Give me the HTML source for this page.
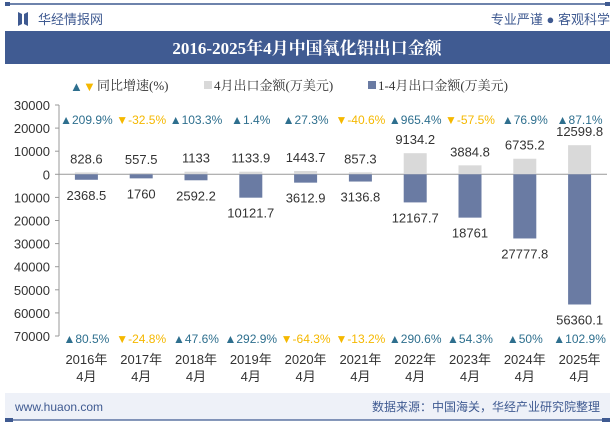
<!DOCTYPE html>
<html><head><meta charset="utf-8"><style>
body{margin:0;width:615px;height:427px;background:#fff;overflow:hidden;font-family:"Liberation Sans","Noto Sans CJK SC",sans-serif}
</style></head><body>
<svg width="615" height="427" xmlns="http://www.w3.org/2000/svg" font-family="Liberation Sans, Noto Sans CJK SC, sans-serif">
<line x1="5" y1="4" x2="610" y2="4" stroke="#3f5a91" stroke-width="1.5"/>
<rect x="5" y="2" width="5" height="4" fill="#3f5a91"/><rect x="605" y="2" width="5" height="4" fill="#3f5a91"/>
<g><polygon points="18,12 22,14 22,24 18,26" fill="#3f5a91"/><polygon points="28,12 24,14 24,24 28,26" fill="#3f5a91"/></g>
<text x="38" y="24" font-size="13" fill="#3f5a91">华经情报网</text>
<text x="610" y="24" font-size="13" fill="#3f5a91" text-anchor="end">专业严谨 ● 客观科学</text>
<rect x="5" y="31" width="605" height="33" fill="#405b92"/>
<text x="307" y="54" font-size="17" font-weight="bold" fill="#fff" text-anchor="middle" font-family="Liberation Serif, Noto Serif CJK SC, serif">2016-2025年4月中国氧化铝出口金额</text>
<g font-size="13" fill="#333" font-family="Liberation Serif, Noto Serif CJK SC, serif">
<text x="70" y="91" font-size="13" fill="#2e6f8e">▲</text><text x="83" y="91" font-size="13" fill="#f5b800">▼</text>
<text x="97" y="90">同比增速(%)</text>
<rect x="204" y="81" width="8" height="8" fill="#d9d9d9"/><text x="214" y="90">4月出口金额(万美元)</text>
<rect x="368" y="81" width="8" height="8" fill="#6a7ba3"/><text x="378" y="90">1-4月出口金额(万美元)</text>
</g>
<g id="axis"></g>
<g id="plot"></g>
<rect x="5" y="393" width="605" height="27" fill="#eef1f8"/>
<line x1="5" y1="420" x2="610" y2="420" stroke="#3f5a91" stroke-width="1.2"/>
<rect x="5" y="418" width="8" height="4" fill="#3f5a91"/><rect x="602" y="418" width="8" height="4" fill="#3f5a91"/>
<text x="15" y="411" font-size="12" fill="#3f5a91">www.huaon.com</text>
<text x="600" y="411" font-size="12" fill="#3f5a91" text-anchor="end">数据来源：中国海关，华经产业研究院整理</text>
</svg>
<script>
const categories=["2016年","2017年","2018年","2019年","2020年","2021年","2022年","2023年","2024年","2025年"];
const aprilValues=[828.6,557.5,1133,1133.9,1443.7,857.3,9134.2,3884.8,6735.2,12599.8];
const ytdValues=[2368.5,1760,2592.2,10121.7,3612.9,3136.8,12167.7,18761,27777.8,56360.1];
const aprilYoy=[209.9,-32.5,103.3,1.4,27.3,-40.6,965.4,-57.5,76.9,87.1];
const ytdYoy=[80.5,-24.8,47.6,292.9,-64.3,-13.2,290.6,54.3,50,102.9];
const yTicks=[30000,20000,10000,0,-10000,-20000,-30000,-40000,-50000,-60000,-70000];
const NS="http://www.w3.org/2000/svg";
const x0=59,x1=607,yTop=105,yBot=336,vMax=30000,vMin=-70000;
const y=v=>yTop+(vMax-v)/(vMax-vMin)*(yBot-yTop);
const bw=(x1-x0)/categories.length;
const cx=i=>x0+bw*(i+0.5);
function mk(t,a,p){const e=document.createElementNS(NS,t);for(const k in a)e.setAttribute(k,a[k]);p.appendChild(e);return e;}
const ax=document.getElementById('axis'),pl=document.getElementById('plot');
mk('line',{x1:x0,y1:yTop,x2:x0,y2:yBot,stroke:'#999'},ax);
yTicks.forEach(v=>{const t=mk('text',{x:x0-9,y:y(v)+5,'font-size':13,fill:'#333','text-anchor':'end'},ax);


t.textContent=Math.abs(v);
mk('line',{x1:x0-4,y1:y(v),x2:x0,y2:y(v),stroke:'#999'},ax);});
const fmt=p=>(p>=0?'▲':'▼')+p+'%';
categories.forEach((c,i)=>{
const X=cx(i),w=23;
const r1=mk('rect',{x:X-w/2,y:y(aprilValues[i]),width:w,height:y(0)-y(aprilValues[i]),fill:'#d9d9d9'},pl);


const r2=mk('rect',{x:X-w/2,y:y(0),width:w,height:y(-ytdValues[i])-y(0),fill:'#6a7ba3'},pl);


const t1=mk('text',{x:X,y:y(aprilValues[i])-9,'font-size':13,fill:'#333','text-anchor':'middle'},pl);


t1.textContent=aprilValues[i];
const t2=mk('text',{x:X,y:y(-ytdValues[i])+20,'font-size':13,fill:'#333','text-anchor':'middle'},pl);


t2.textContent=ytdValues[i];
const p1=mk('text',{x:X,y:124,'font-size':12,fill:aprilYoy[i]>=0?'#2e6f8e':'#f5b800','text-anchor':'middle'},pl);


p1.textContent=fmt(aprilYoy[i]);
const p2=mk('text',{x:X,y:343,'font-size':12,fill:ytdYoy[i]>=0?'#2e6f8e':'#f5b800','text-anchor':'middle'},pl);


p2.textContent=fmt(ytdYoy[i]);
const l1=mk('text',{x:X,y:364,'font-size':13,fill:'#333','text-anchor':'middle'},pl);


l1.textContent=c;
const l2=mk('text',{x:X,y:381,'font-size':13,fill:'#333','text-anchor':'middle'},pl);


l2.textContent='4月';
});
mk('line',{x1:x0,y1:y(0),x2:x1,y2:y(0),stroke:'#999'},ax);
</script>
</body></html>
